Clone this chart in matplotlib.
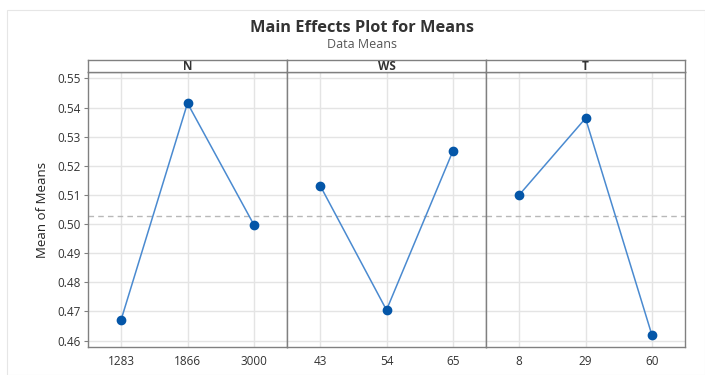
import matplotlib.pyplot as plt
from matplotlib.patches import Rectangle
import numpy as np

plt.rcParams['font.family'] = ['Open Sans', 'DejaVu Sans']

factors = ["N", "WS", "T"]
levels = {
    "N": ["1283", "1866", "3000"],
    "WS": ["43", "54", "65"],
    "T": ["8", "29", "60"],
}
means = {
    "N": [0.4672, 0.5415, 0.4998],
    "WS": [0.5132, 0.4705, 0.5250],
    "T": [0.5100, 0.5363, 0.4620],
}
yticks = [0.46, 0.47, 0.48, 0.49, 0.50, 0.51, 0.52, 0.53, 0.54, 0.55]
grand_mean = np.mean(means["N"])

W, H = 705, 375
fig = plt.figure(figsize=(W / 100, H / 100), dpi=100)
fig.patches.append(Rectangle((7 / W, 0), 1 - 7 / W, 1 - 10 / H, transform=fig.transFigure,
                             fill=False, edgecolor="#e6e6e6", lw=0.8))

left, right = 88 / W, 685 / W
bottom, top, strip_top = 1 - 347 / H, 1 - 72 / H, 1 - 60 / H
pw = (right - left) / 3
border = "#808080"

for i, f in enumerate(factors):
    ax = fig.add_axes([left + i * pw, bottom, pw, top - bottom])
    x = np.arange(1, 4)
    ax.plot(x, means[f], color="#4a8ad0", lw=1.1, zorder=3)
    ax.plot(x, means[f], "o", color="#0456a8", ms=6, zorder=4)
    ax.axhline(grand_mean, color="#b8b8b8", ls=(0, (4, 3)), lw=1, zorder=2)
    ax.set_xlim(0.5, 3.5)
    ax.set_ylim(0.4578, 0.5522)
    ax.set_xticks(x)
    ax.set_xticklabels(levels[f], fontsize=8.5, color="#333333")
    ax.set_yticks(yticks)
    ax.tick_params(axis="x", length=0, pad=6)
    if i == 0:
        ax.set_yticklabels([f"{v:.2f}" for v in yticks], fontsize=8.5, color="#333333")
        ax.set_ylabel("Mean of Means", fontsize=9.5, color="#222222", labelpad=6)
        ax.tick_params(axis="y", color=border, length=3, width=0.8, pad=2)
    else:
        ax.tick_params(axis="y", length=0, labelleft=False)
    ax.grid(True, color="#e4e4e4", lw=1, zorder=0)
    ax.set_axisbelow(True)
    for s in ax.spines.values():
        s.set_color(border)
        s.set_linewidth(1)

    sax = fig.add_axes([left + i * pw, top, pw, strip_top - top])
    sax.set_xticks([])
    sax.set_yticks([])
    for s in sax.spines.values():
        s.set_color(border)
        s.set_linewidth(1)
    sax.text(0.5, 0.45, f, ha="center", va="center", fontsize=8.5,
             fontweight="bold", color="#333333", transform=sax.transAxes)

fig.text(0.513, 1 - 28 / H, "Main Effects Plot for Means", ha="center", va="center",
         fontsize=11.8, fontweight="bold", color="#333333")
fig.text(0.513, 1 - 44 / H, "Data Means", ha="center", va="center",
         fontsize=9, color="#555555")

fig.savefig("out.png", dpi=100)
